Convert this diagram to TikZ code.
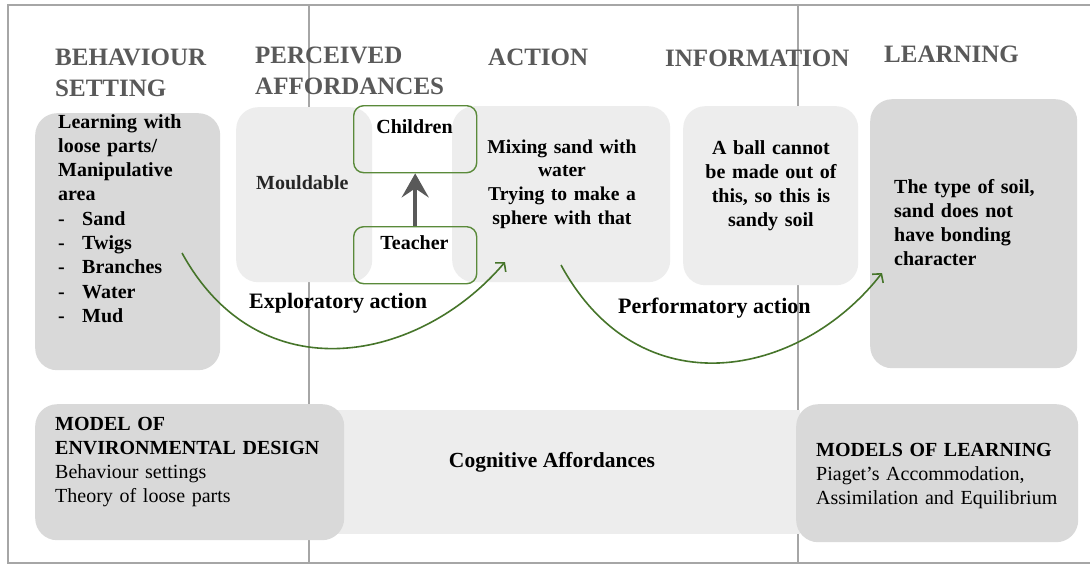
\documentclass[tikz,border=0pt]{standalone}
\usepackage{fontspec}
\setmainfont{Liberation Serif}
\usetikzlibrary{arrows.meta}
\definecolor{frameg}{HTML}{A6A6A6}
\definecolor{boxdark}{HTML}{D9D9D9}
\definecolor{boxlight}{HTML}{EDEDED}
\definecolor{headg}{HTML}{595959}
\definecolor{grn}{HTML}{5A8A3A}
\definecolor{grncurve}{HTML}{46752A}
\newcommand{\lstitem}[1]{\makebox[24pt][l]{-}#1}
\tikzset{
  gline/.style={draw=frameg, line width=2.5pt},
  darkbox/.style={fill=boxdark, rounded corners=22pt, inner sep=0pt, anchor=north west},
  lightbox/.style={fill=boxlight, rounded corners=22pt, inner sep=0pt, anchor=north west},
  greenbox/.style={draw=grn, line width=1.4pt, rounded corners=10pt, inner sep=0pt, anchor=north west},
  heading/.style={font=\fontsize{25}{31.5}\selectfont\bfseries, text=headg, anchor=base west, inner sep=0pt, text width=220pt, align=left},
  body/.style={font=\fontsize{20}{24.3}\selectfont\bfseries, inner sep=0pt},
  flowlabel/.style={font=\fontsize{22}{27}\selectfont\bfseries, inner sep=0pt, anchor=base west},
  curvearrow/.style={draw=grncurve, line width=1.6pt, -{Straight Barb[length=6pt,width=14pt]}},
}
\begin{document}
\begin{tikzpicture}[x=1pt,y=-1pt]
\useasboundingbox (0,0) rectangle (1090,565);
\fill[white] (0,0) rectangle (1090,565);
% frame and column dividers
\coordinate (ftr) at (1092,5);
\coordinate (ftl) at (8,5);
\coordinate (fbl) at (8,563);
\coordinate (fbr) at (1092,563);
\draw[gline] (ftr) -- (ftl) -- (fbl) -- (fbr);
\coordinate (v1t) at (309,5);
\coordinate (v1b) at (309,563);
\coordinate (v2t) at (798,5);
\coordinate (v2b) at (798,563);
\draw[gline] (v1t) -- (v1b);
\draw[gline] (v2t) -- (v2b);

% headings
\node[heading] (hbs) at (55,65) {BEHAVIOUR\\SETTING};
\node[heading] (hpa) at (255,63) {PERCEIVED\\AFFORDANCES};
\node[heading] (hact) at (488,65) {ACTION};
\node[heading] (hinfo) at (665,66) {INFORMATION};
\node[heading] (hlearn) at (884,62) {LEARNING};

% upper boxes
\node[darkbox, minimum width=185pt, minimum height=257pt] (bs) at (35,113) {};
\node[lightbox, minimum width=136pt, minimum height=175pt] (pa) at (236,107) {};
\node[lightbox, minimum width=218pt, minimum height=176pt] (act) at (452,106) {};
\node[lightbox, minimum width=175pt, minimum height=179pt] (info) at (683,106) {};
\node[darkbox, minimum width=207pt, minimum height=269pt] (learn) at (870,99) {};
\node[greenbox, minimum width=123pt, minimum height=67pt] (children) at (353,105) {};
\node[greenbox, minimum width=123pt, minimum height=57pt] (teacher) at (353,226) {};

% lower boxes
\coordinate (cogtl) at (300,410);
\coordinate (cogbr) at (800,534);
\fill[boxlight] (cogtl) rectangle (cogbr);
\node[darkbox, minimum width=309pt, minimum height=136pt] (med) at (35,404) {};
\node[darkbox, minimum width=282pt, minimum height=138pt] (mol) at (796,404) {};

% teacher -> children arrow
\draw[draw=headg, line width=4.5pt, -{Stealth[length=24pt,width=27pt,inset=9pt]}] (teacher.north) -- (children.south);

% texts
\node[body, anchor=base west, text width=170pt, align=left] (bstext) at (58,128)
  {Learning with\\loose parts/\\Manipulative\\area\\\lstitem{Sand}\\\lstitem{Twigs}\\\lstitem{Branches}\\\lstitem{Water}\\\lstitem{Mud}};
\node[body, anchor=base west, text=black!85] (mould) at (256,189) {Mouldable};
\node[body, anchor=base] (childtext) at (414.5,133) {Children};
\node[body, anchor=base] (teachtext) at (414.5,249) {Teacher};
\node[body, anchor=base, text width=215pt, align=center, font=\fontsize{19.6}{23.7}\selectfont\bfseries] (acttext) at (562,153)
  {Mixing sand with\\water\\Trying to make a\\sphere with that};
\node[body, anchor=base, text width=170pt, align=center] (infotext) at (771,154)
  {A ball cannot\\be made out of\\this, so this is\\sandy soil};
\node[body, anchor=base west, text width=175pt, align=left] (learntext) at (894,193)
  {The type of soil,\\sand does not\\have bonding\\character};

\node[flowlabel] (explab) at (249,308) {Exploratory action};
\node[flowlabel] (perflab) at (618,313) {Performatory action};

\node[body, anchor=base west, text width=290pt, align=left] (medtext) at (55,430)
  {MODEL OF\\ENVIRONMENTAL DESIGN\\\mdseries Behaviour settings\\\mdseries Theory of loose parts};
\node[body, anchor=base, font=\fontsize{21.5}{26}\selectfont\bfseries] (cogtext) at (552,467) {Cognitive Affordances};
\node[body, anchor=base west, text width=265pt, align=left] (moltext) at (816,456)
  {MODELS OF LEARNING\\\mdseries Piaget’s Accommodation,\\\mdseries Assimilation and Equilibrium};

% curved arrows
\coordinate (c1s) at (182,253);
\coordinate (c1e) at (505,262);
\coordinate (c2s) at (561,265);
\coordinate (c2e) at (882,273);
\draw[curvearrow] (c1s) .. controls (260,395) and (420,362) .. (c1e);
\draw[curvearrow] (c2s) .. controls (640,410) and (800,378) .. (c2e);
\end{tikzpicture}
\end{document}
